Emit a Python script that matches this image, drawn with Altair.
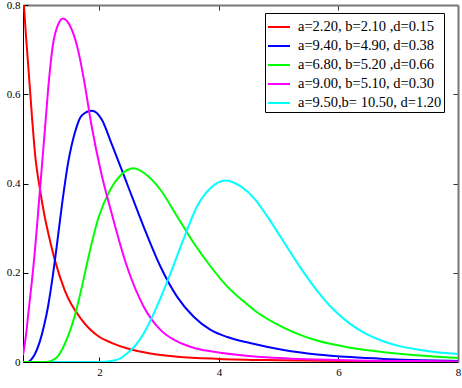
import altair as alt
import pandas as pd

# ---- data ----
labels = [
    "a=2.20, b=2.10 ,d=0.15",
    "a=9.40, b=4.90, d=0.38",
    "a=6.80, b=5.20 ,d=0.66",
    "a=9.00, b=5.10, d=0.30",
    "a=9.50,b= 10.50, d=1.20",
]
colors = ["#ff0000", "#0000ff", "#00ff00", "#ff00ff", "#00ffff"]

red_x = [0.72, 0.77, 0.81, 0.87, 0.93, 1.0, 1.07, 1.14, 1.25, 1.42, 1.7, 2.0, 2.2, 2.5, 2.85, 3.3, 4.0, 5.0, 6.0, 7.0, 8.0]
red_y = [0.83, 0.73, 0.66, 0.55, 0.455, 0.39, 0.335, 0.29, 0.23, 0.16, 0.095, 0.056, 0.043, 0.029, 0.019, 0.012, 0.007, 0.004, 0.0025, 0.0015, 0.001]

blue_x = [0.72, 0.80, 0.86, 0.92, 1.0, 1.07, 1.14, 1.21, 1.29, 1.37, 1.48, 1.59, 1.70, 1.87, 2.04, 2.2, 2.46, 2.74, 3.02, 3.3, 3.58, 3.86, 4.14, 4.5, 5.08, 5.64, 6.2, 6.76, 7.4, 8.0]
blue_y = [0.0, 0.0, 0.006, 0.018, 0.045, 0.08, 0.125, 0.185, 0.265, 0.35, 0.45, 0.515, 0.552, 0.563, 0.543, 0.49, 0.40, 0.303, 0.214, 0.146, 0.101, 0.072, 0.056, 0.043, 0.027, 0.017, 0.011, 0.007, 0.004, 0.0025]

green_x = [0.72, 1.1, 1.2, 1.3, 1.37, 1.48, 1.59, 1.70, 1.81, 1.98, 2.18, 2.35, 2.57, 2.79, 3.02, 3.3, 3.58, 3.86, 4.14, 4.42, 4.62, 5.08, 5.64, 6.2, 6.76, 7.3, 8.0]
green_y = [0.0, 0.0, 0.003, 0.012, 0.027, 0.060, 0.105, 0.165, 0.232, 0.322, 0.386, 0.418, 0.434, 0.419, 0.386, 0.326, 0.266, 0.214, 0.169, 0.135, 0.113, 0.077, 0.048, 0.032, 0.022, 0.015, 0.009]

magenta_x = [0.72, 0.77, 0.81, 0.86, 0.92, 0.97, 1.0, 1.08, 1.14, 1.22, 1.31, 1.39, 1.5, 1.64, 1.75, 1.86, 2.03, 2.2, 2.46, 2.74, 3.02, 3.3, 3.6, 3.86, 4.3, 4.7, 5.2, 5.65, 6.5, 7.3, 8.0]
magenta_y = [0.015, 0.06, 0.11, 0.17, 0.25, 0.33, 0.38, 0.51, 0.61, 0.71, 0.757, 0.770, 0.755, 0.70, 0.625, 0.535, 0.423, 0.335, 0.214, 0.124, 0.072, 0.046, 0.031, 0.024, 0.016, 0.011, 0.0075, 0.0055, 0.003, 0.002, 0.001]

cyan_x = [1.2, 2.0, 2.2, 2.35, 2.46, 2.6, 2.74, 2.96, 3.19, 3.40, 3.63, 3.86, 4.11, 4.36, 4.6, 4.80, 5.08, 5.36, 5.64, 5.92, 6.2, 6.48, 6.76, 7.04, 7.32, 7.65, 8.0]
cyan_y = [0.0, 0.0, 0.002, 0.008, 0.019, 0.037, 0.064, 0.124, 0.199, 0.273, 0.348, 0.390, 0.407, 0.394, 0.365, 0.328, 0.27, 0.212, 0.16, 0.117, 0.085, 0.062, 0.046, 0.035, 0.028, 0.022, 0.018]

x_ticks = [2, 4, 6, 8]
y_ticks = [0, 0.2, 0.4, 0.6, 0.8]
x_domain = [0.72, 8]
y_domain = [0, 0.8]

series = [
    (labels[0], red_x, red_y),
    (labels[1], blue_x, blue_y),
    (labels[2], green_x, green_y),
    (labels[3], magenta_x, magenta_y),
    (labels[4], cyan_x, cyan_y),
]
rows = []
for k, (name, xs, ys) in enumerate(series):
    for xv, yv in zip(xs, ys):
        rows.append({"x": xv, "y": yv, "series": name, "k": k})
df = pd.DataFrame(rows)

FONT = "Liberation Serif, Times New Roman, serif"
neg_tick = {"expr": "-5"}

xscale = alt.Scale(domain=x_domain, nice=False, zero=False)
yscale = alt.Scale(domain=y_domain, nice=False, zero=False)

curves = alt.Chart(df).mark_line(strokeWidth=2, interpolate="monotone", clip=True).encode(
    x=alt.X("x:Q", scale=xscale, axis=alt.Axis(
        orient="bottom", values=x_ticks, title=None, grid=False,
        domainColor="#000000", domainWidth=1, tickColor="#000000", tickWidth=1,
        tickSize=neg_tick, labelPadding=9, labelFlush=False,
        labelFont=FONT, labelFontSize=11, labelColor="#000000")),
    y=alt.Y("y:Q", scale=yscale, axis=alt.Axis(
        orient="left", values=y_ticks, title=None, grid=False,
        domainColor="#000000", domainWidth=1, tickColor="#000000", tickWidth=1,
        tickSize=neg_tick, labelPadding=8, labelFlush=False,
        labelExpr="datum.value == 0 ? '0' : format(datum.value, '.1f')",
        labelFont=FONT, labelFontSize=11, labelColor="#000000")),
    color=alt.Color("series:N", scale=alt.Scale(domain=labels, range=colors), legend=alt.Legend(
        title=None, orient="none", legendX=242, legendY=8,
        strokeColor="#000000", fillColor="#ffffff", padding=2,
        symbolType="stroke", symbolSize=484, symbolStrokeWidth=2,
        labelFont=FONT, labelFontSize=14.5, labelColor="#000000", labelOffset=7,
        labelExpr="datum.label + '\u00a0\u00a0\u00a0'",
        rowPadding=-1.5, labelLimit=400)),
    detail="k:N",
)

frame = alt.Chart(df).mark_point(opacity=0).encode(
    x=alt.X("x:Q", scale=xscale, axis=alt.Axis(
        orient="top", values=[2, 4, 6], title=None, grid=False, labels=False,
        domainColor="#777777", domainWidth=2, tickColor="#333333", tickWidth=1,
        tickSize=neg_tick)),
    y=alt.Y("y:Q", scale=yscale, axis=alt.Axis(
        orient="right", values=[0.2, 0.4, 0.6], title=None, grid=False, labels=False,
        domainColor="#777777", domainWidth=2, tickColor="#333333", tickWidth=1,
        tickSize=neg_tick)),
)

chart = alt.layer(curves, frame).resolve_scale(x="independent", y="independent").properties(
    width=435, height=357,
    autosize=alt.AutoSizeParams(type="none"),
    padding={"left": 23, "top": 5, "right": 4, "bottom": 26},
    background="#ffffff",
).configure_view(stroke=None)

chart.save("out.html", embed_options={"renderer": "svg", "actions": False})
